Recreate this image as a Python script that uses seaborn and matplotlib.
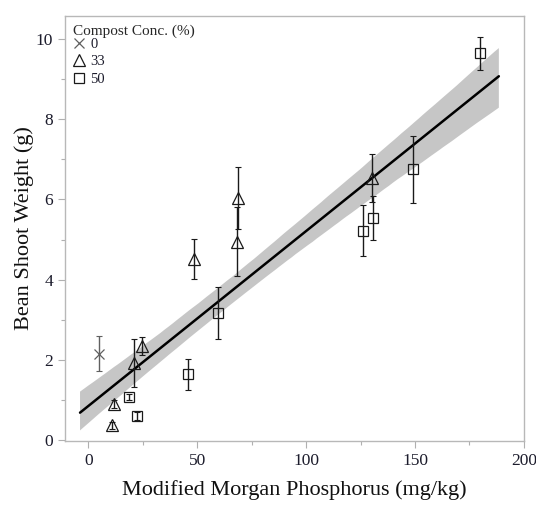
import numpy as np
import pandas as pd
import matplotlib
matplotlib.use("Agg")
import matplotlib.pyplot as plt
import seaborn as sns
from matplotlib.ticker import MultipleLocator

# ---- data ----
conc = ["0",
        "33", "33", "33", "33", "33", "33", "33", "33",
        "50", "50", "50", "50", "50", "50", "50", "50"]
phos = [5.0,
        24.5, 21.0, 11.9, 11.0, 48.6, 68.8, 68.1, 130.3,
        18.7, 22.3, 45.9, 59.4, 126.1, 130.6, 149.1, 180.0]
weight = [2.16,
          2.34, 1.93, 0.90, 0.37, 4.51, 6.04, 4.95, 6.53,
          1.08, 0.60, 1.64, 3.17, 5.22, 5.53, 6.75, 9.64]
err = [0.43,
       0.22, 0.60, 0.10, 0.08, 0.50, 0.77, 0.87, 0.60,
       0.08, 0.10, 0.38, 0.64, 0.63, 0.55, 0.83, 0.41]
levels = ["0", "33", "50"]

df = pd.DataFrame({"conc": conc, "phos": phos, "weight": weight, "err": err})

sns.set_theme(style="white")
plt.rcParams["font.family"] = ["Liberation Serif", "DejaVu Serif"]

fig = plt.figure(figsize=(5.36, 5.08), dpi=100)
ax = fig.add_axes([65/536, 1-441/508, (524-65)/536, (441-16)/508])

# regression line + confidence band over extended range
ax.set_xlim(-3.8, 188.5)
sns.regplot(data=df, x="phos", y="weight", ax=ax, scatter=False, truncate=False,
            ci=80, n_boot=2000, seed=3,
            line_kws=dict(color="black", lw=1.8, zorder=3),
            color="#b0b0b0")
for coll in ax.collections:
    coll.set_facecolor("#c6c6c6")
    coll.set_alpha(1)
    coll.set_edgecolor("none")

styles = {"0": dict(marker="x", color="#606060", ms=7, mew=0.9),
          "33": dict(marker="^", color="#1a1a1a", ms=8.5, mew=0.9),
          "50": dict(marker="s", color="#1a1a1a", ms=7, mew=0.9)}
for lv in levels:
    sub = df[df["conc"] == lv]
    st = styles[lv]
    ax.errorbar(sub["phos"], sub["weight"], yerr=sub["err"], fmt="none",
                ecolor=st["color"], elinewidth=1.0, capsize=2, capthick=0.8, zorder=4)
    ax.plot(sub["phos"], sub["weight"], ls="none", marker=st["marker"], ms=st["ms"],
            mec=st["color"], mfc="none", mew=st["mew"], label=lv, zorder=5)

ax.set_xlim(-10.7, 200.05)
ax.set_ylim(-0.02, 10.57)
ax.xaxis.set_major_locator(MultipleLocator(50))
ax.xaxis.set_minor_locator(MultipleLocator(25))
ax.yaxis.set_major_locator(MultipleLocator(2))
ax.yaxis.set_minor_locator(MultipleLocator(1))
ax.tick_params(which="both", direction="out", color="#b0b0b0", labelcolor="#1c1c2c",
               labelsize=12.5, bottom=True, left=True)
ax.tick_params(which="major", length=5, width=0.8)
ax.tick_params(which="minor", length=3, width=0.8)
for s in ax.spines.values():
    s.set_color("#b8b8b8")
    s.set_linewidth(1.0)

ax.set_xlabel("Modified Morgan Phosphorus (mg/kg)", fontsize=16, color="#111111", labelpad=8)
ax.set_ylabel("Bean Shoot Weight (g)", fontsize=16, color="#111111", labelpad=1)

leg = ax.legend(title="Compost Conc. (%)", loc="upper left", frameon=False,
                bbox_to_anchor=(0.0, 1.0), borderaxespad=0.15,
                fontsize=10.5, title_fontsize=11, handlelength=0.8, handletextpad=0.4,
                labelspacing=0.3, alignment="left")
leg._legend_box.sep = 0
for t in leg.get_texts():
    t.set_color("#1c1c2c")

fig.savefig("out.png", dpi=100)
